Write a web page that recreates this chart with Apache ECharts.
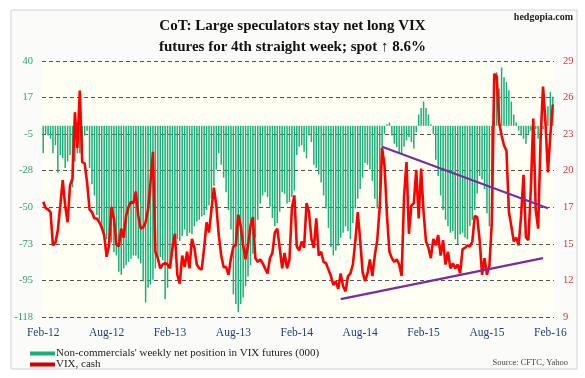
<!DOCTYPE html>
<html><head><meta charset="utf-8">
<script src="https://cdn.jsdelivr.net/npm/echarts@6/dist/echarts.min.js"></script>
<style>html,body{margin:0;padding:0;background:#fff}#c{width:585px;height:378px}</style>
</head><body><div id="c"></div>
<script>
// Non-commercials' weekly net position in VIX futures (000), weekly from 7 Feb 2012
const netPosition = [
-17,-5,-6,-8,-17,-12,-29,-18,-20,-26,
-22,-18,-38,-22,-17,-17,-20,-6,-3,-26,
-36,-43,-55,-58,-63,-67,-70,-72,-72,-78,
-80,-90,-92,-88,-86,-84,-82,-80,-80,-82,
-85,-96,-109,-100,-98,-95,-88,-84,-81,-83,
-107,-100,-88,-78,-72,-70,-71,-68,-64,-68,
-66,-67,-62,-59,-58,-56,-55,-52,-49,-45,
-37,-27,-17,-24,-32,-41,-52,-64,-104,-110,
-115,-110,-106,-99,-93,-86,-79,-69,-58,-48,
-43,-41,-44,-50,-57,-62,-60,-53,-41,-42,
-48,-47,-44,-40,-18,-13,-12,-16,-20,-6,
-10,-24,-26,-30,-35,-43,-51,-63,-75,-80,
-77,-74,-69,-66,-62,-65,-70,-60,-51,-45,
-39,-32,-23,-24,-27,-34,-45,-51,-39,-22,
-5,1,2,-6,-11,-13,-17,-17,-13,-9,
-7,-10,-14,-4,7,11,15,11,7,1,
-5,-21,-31,-43,-52,-58,-62,-66,-65,-70,
-73,-67,-66,-69,-70,-62,-58,-52,-42,-31,
-33,-39,-54,-62,-45,26,33,23,36,30,
27,22,15,7,2,-3,-6,-8,-11,-5,
-3,-6,-2,-8,-6,-2,7,12,21,18
];
// VIX, cash (weekly)
const vixCash = [
18.0,17.5,17.4,17.2,14.6,14.8,15.8,17.7,19.7,17.7,
16.4,19.3,19.8,25.0,22.2,26.7,21.1,21.0,19.5,17.4,
17.2,16.7,16.7,16.4,16.0,15.4,13.7,14.6,17.6,16.7,
14.7,14.5,15.9,15.2,16.9,17.6,18.0,17.9,18.8,16.9,
15.9,16.0,16.4,17.4,19.5,21.9,14.1,13.6,12.8,13.1,
13.2,13.1,12.8,14.4,15.5,12.3,11.6,13.8,12.9,14.1,
12.8,15.1,14.4,13.1,12.8,12.7,14.4,16.4,15.6,17.4,
19.1,17.7,15.4,13.8,12.9,12.9,12.3,13.6,14.5,14.6,
17.0,16.1,14.6,13.5,14.6,16.1,16.8,13.6,13.3,13.5,
13.2,12.8,12.4,13.6,14.0,15.6,15.9,14.4,12.8,14.0,
12.8,13.5,17.5,18.5,14.5,14.2,14.9,14.4,17.9,17.2,
15.1,14.4,16.7,13.8,14.1,13.3,13.2,12.7,12.2,11.5,
11.8,11.2,12.4,11.4,11.0,12.2,12.4,13.1,14.9,17.2,
15.0,12.5,11.8,12.4,13.5,12.2,13.8,15.0,17.5,22.2,
20.8,16.9,14.1,13.6,13.3,13.5,13.1,12.2,18.4,21.1,
15.5,17.7,17.9,20.5,16.7,20.6,17.2,14.9,14.4,13.6,
15.1,14.6,15.4,13.8,15.0,13.1,14.1,12.8,13.2,12.8,
13.1,12.4,14.3,14.4,14.6,14.5,14.9,16.9,16.8,15.0,
12.3,13.6,12.3,13.0,16.4,28.0,27.8,24.2,23.2,22.4,
22.0,17.2,16.1,14.9,15.2,14.6,16.9,20.1,15.2,15.0,
19.0,24.5,17.4,15.9,22.9,27.0,24.2,20.3,23.2,25.6
];
// Trend lines drawn on the chart: [week index, VIX level]
const trendUpper = [[139, 22.3], [207, 17.5]];
const trendLower = [[122, 10.4], [205, 13.6]];
const leftTicks = [-118, -95, -73, -50, -28, -5, 17, 40];
const rightTicks = [9, 12, 15, 17, 20, 23, 26, 29];
const xTickLabels = ['Feb-12','Aug-12','Feb-13','Aug-13','Feb-14','Aug-14','Feb-15','Aug-15','Feb-16'];

const monthNames = ['Jan','Feb','Mar','Apr','May','Jun','Jul','Aug','Sep','Oct','Nov','Dec'];
const startDate = Date.UTC(2012, 1, 7);
const weekDates = netPosition.map((_, i) => new Date(startDate + i * 7 * 864e5));
const categories = weekDates.map(d => d.toISOString().slice(0, 10));
const tickAt = {};
weekDates.forEach((d, i) => {
  const m = d.getUTCMonth();
  if ((m === 1 || m === 7) && d.getUTCDate() <= 7) {
    const lab = monthNames[m] + '-' + String(d.getUTCFullYear()).slice(2);
    if (xTickLabels.indexOf(lab) >= 0) tickAt[i] = lab;
  }
});

const FONT = 'Liberation Serif';
const chart = echarts.init(document.getElementById('c'), null, {renderer: 'canvas'});
chart.setOption({
  backgroundColor: '#ffffff',
  animation: false,
  title: {
    text: 'CoT: Large speculators stay net long VIX\nfutures for 4th straight week; spot \u2191 8.6%',
    left: 'center', top: 11,
    textStyle: {fontFamily: FONT, fontWeight: 'bold', fontSize: 15, lineHeight: 21, color: '#111'}
  },
  graphic: [
    {type: 'rect', z: -10, shape: {x: 11, y: 10, width: 566, height: 359},
     style: {fill: '#fbfbfa', stroke: '#c9d3e4', lineWidth: 1}},
    {type: 'text', right: 12, top: 12,
     style: {text: 'hedgopia.com', fontFamily: FONT, fontWeight: 'bold', fontSize: 10, fill: '#222'}},
    {type: 'text', right: 17, top: 358,
     style: {text: 'Source: CFTC, Yahoo', fontFamily: FONT, fontSize: 8.5, fill: '#444'}}
  ],
  legend: {
    orient: 'vertical', left: 25, top: 343, itemGap: 0, itemWidth: 25, itemHeight: 4,
    data: [
      {name: "Non-commercials' weekly net position in VIX futures (000)", icon: 'rect'},
      {name: 'VIX, cash', icon: 'rect', itemStyle: {color: '#d00000'}}
    ],
    textStyle: {fontFamily: FONT, fontSize: 11, color: '#222', padding: [0, 0, 0, -4]}
  },
  grid: {left: 42, right: 31, top: 61, bottom: 61, show: true, backgroundColor: '#fffff4', borderWidth: 0},
  xAxis: {
    type: 'category', data: categories, boundaryGap: true,
    axisLine: {show: false}, axisTick: {show: false},
    axisLabel: {
      interval: (idx) => tickAt[idx] !== undefined,
      formatter: (v, idx) => tickAt[idx] || '',
      fontFamily: FONT, fontSize: 11.5, color: '#1f3d78', margin: 10
    },
    splitLine: {show: false}
  },
  yAxis: [
    {type: 'value', min: -118, max: 40, show: false},
    {type: 'value', min: 9, max: 29, show: false},
    {type: 'value', position: 'left', min: 0, max: 7, interval: 1,
     axisLine: {show: false}, axisTick: {show: false},
     axisLabel: {formatter: v => leftTicks[v], fontFamily: FONT, fontSize: 10.5, color: '#30a070', margin: 9},
     splitLine: {show: true, lineStyle: {color: '#555', type: [4, 3], width: 1}}},
    {type: 'value', position: 'right', min: 0, max: 7, interval: 1,
     axisLine: {show: false}, axisTick: {show: false},
     axisLabel: {formatter: v => rightTicks[v], fontFamily: FONT, fontSize: 10.5, color: '#d0343a', margin: 9},
     splitLine: {show: false}}
  ],
  series: [
    {name: "Non-commercials' weekly net position in VIX futures (000)", type: 'bar', yAxisIndex: 0,
     data: netPosition, barWidth: '62%', itemStyle: {color: '#1bb07a'}, z: 2},
    {name: 'VIX, cash', type: 'line', yAxisIndex: 1, data: vixCash, symbol: 'none',
     lineStyle: {color: '#ff0000', width: 2.6}, itemStyle: {color: '#d00000'}, z: 3},
    {name: 'trendUpper', type: 'line', yAxisIndex: 1, data: trendUpper, symbol: 'none',
     lineStyle: {color: '#7a2c9e', width: 2.2}, z: 4},
    {name: 'trendLower', type: 'line', yAxisIndex: 1, data: trendLower, symbol: 'none',
     lineStyle: {color: '#7a2c9e', width: 2.2}, z: 4}
  ]
});
</script></body></html>
